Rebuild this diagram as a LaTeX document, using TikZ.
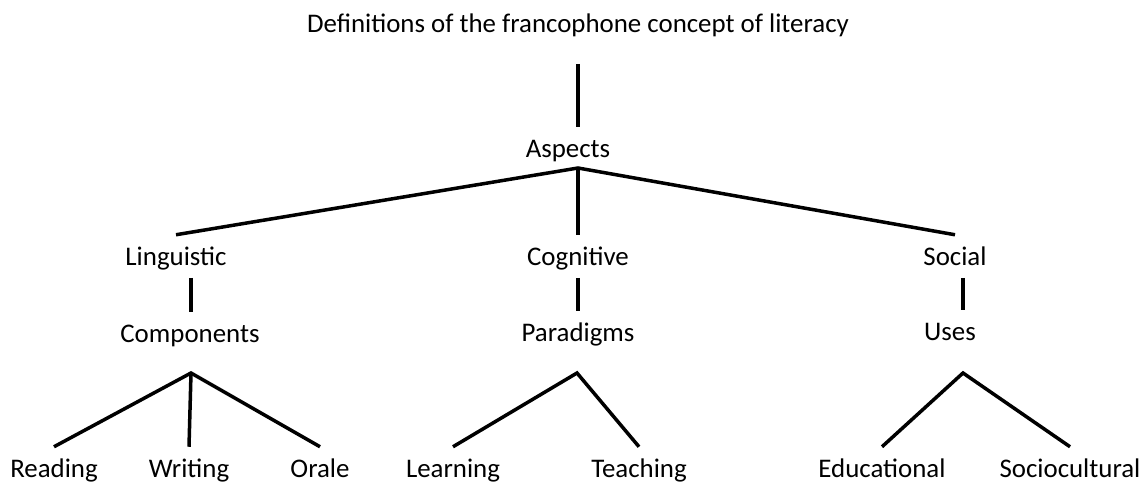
\documentclass[tikz,border=0pt]{standalone}
\usepackage{fontspec}
\setmainfont{Carlito}
\usepackage{tikz}

\begin{document}
\begin{tikzpicture}[x=0.02cm,y=-0.02cm,
  word/.style={font=\fontsize{15.3}{18}\selectfont,anchor=base,inner sep=0pt,
    outer ysep=0.26cm,text height=0.345cm,text depth=0pt},
  branch/.style={line width=0.07cm}]
\useasboundingbox (0,0) rectangle (1143,483);
%labels
\node[word] (defs) at (578,33) {Definitions of the francophone concept of literacy};
\node[word] (aspects) at (568,157) {Aspects};
\node[word] (ling) at (176,265) {Linguistic};
\node[word] (cogn) at (578,265) {Cognitive};
\node[word] (soc) at (955,265) {Social};
\node[word] (comp) at (190,342) {Components};
\node[word] (para) at (578,341) {Paradigms};
\node[word] (uses) at (950,340) {Uses};
\node[word] (reading) at (54,477) {Reading};
\node[word] (writing) at (189,477) {Writing};
\node[word] (orale) at (320,477) {Orale};
\node[word] (learning) at (453,477) {Learning};
\node[word] (teaching) at (639,477) {Teaching};
\node[word] (educ) at (882,477) {Educational};
\node[word] (socio) at (1070,477) {Sociocultural};
%forks
\coordinate (aspFork) at (578,168);
\coordinate (compFork) at (191,373);
\coordinate (paraFork) at (577,373);
\coordinate (usesFork) at (963,373);
%lines
\draw[branch,shorten <=0.36cm] (defs.south) -- (aspects.north -| defs.south);
\draw[branch] (ling.north) -- (aspFork) -- (soc.north);
\draw[branch] (aspFork) -- (cogn.north);
\draw[branch] (ling.south -| compFork) -- (comp.north -| compFork);
\draw[branch] (cogn.south) -- (para.north);
\draw[branch] (soc.south -| usesFork) -- (uses.north -| usesFork);
\draw[branch] (reading.north) -- (compFork) -- (orale.north);
\draw[branch] (compFork) -- (writing.north);
\draw[branch] (learning.north) -- (paraFork) -- (teaching.north);
\draw[branch] (educ.north) -- (usesFork) -- (socio.north);
\end{tikzpicture}
\end{document}
